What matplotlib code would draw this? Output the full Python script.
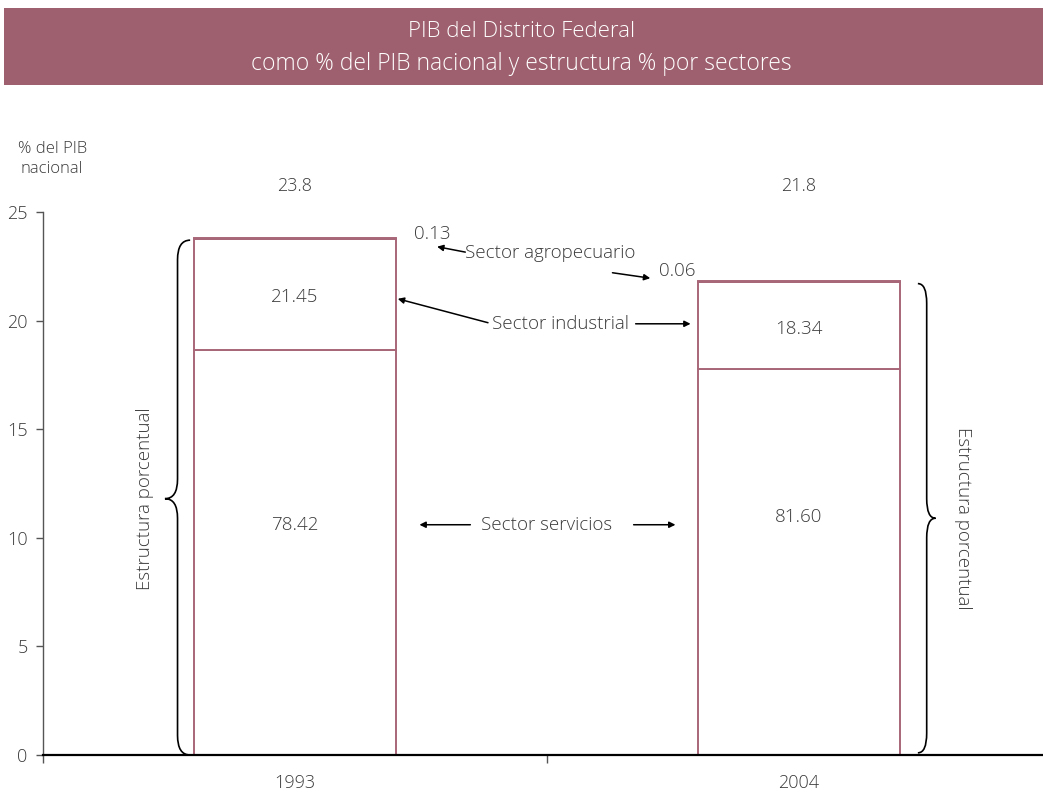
import matplotlib
matplotlib.use("Agg")
import matplotlib.pyplot as plt
from matplotlib.path import Path
from matplotlib.patches import PathPatch, Rectangle

plt.rcParams['font.family'] = ['Open Sans', 'DejaVu Sans']
plt.rcParams['font.weight'] = 300

# PIB del DF como % del nacional y su estructura por sectores
years = ['1993', '2004']
pib_pct = [23.8, 21.8]
servicios = [78.42, 81.60]
industrial = [21.45, 18.34]
agropecuario = [0.13, 0.06]

maroon = '#9e5f6e'
edge = '#a86679'
gray = '#3a3a3a'
fs = 13.5

fig = plt.figure(figsize=(10.43, 7.94), dpi=100)

# banda del título
fig.patches.append(Rectangle((0.004, 0.893), 0.996, 0.097, transform=fig.transFigure,
                             facecolor=maroon, edgecolor='none'))
fig.text(0.5, 0.960, 'PIB del Distrito Federal', color='white', ha='center', va='center',
         fontsize=16)
fig.text(0.5, 0.920, 'como % del PIB nacional y estructura % por sectores', color='white',
         ha='center', va='center', fontsize=16.5)

ax = fig.add_axes([0.0412, 0.0491, 0.9664, 0.684])
ax.set_xlim(0, 2)
ax.set_ylim(0, 25)

xs = [0.5, 1.5]
w = 0.402
serv_label_y = [10.6, 10.95]
ind_label_y = [21.1, 19.6]
for x, tot, s, ind, ag, ys, yi in zip(xs, pib_pct, servicios, industrial, agropecuario,
                                      serv_label_y, ind_label_y):
    h_s = tot * s / 100
    h_i = tot * ind / 100
    h_a = tot * ag / 100
    ax.bar(x, h_s, w, color='white', edgecolor=edge, linewidth=1.4, zorder=2)
    ax.bar(x, h_i, w, bottom=h_s, color='white', edgecolor=edge, linewidth=1.4, zorder=2)
    ax.bar(x, h_a, w, bottom=h_s + h_i, color='white', edgecolor=edge, linewidth=1.4, zorder=2)
    ax.text(x, 26.2, f'{tot}', ha='center', va='center', fontsize=13, color=gray,
            clip_on=False)
    ax.text(x, ys, f'{s:.2f}', ha='center', va='center', fontsize=fs, color=gray)
    ax.text(x, yi, f'{ind:.2f}', ha='center', va='center', fontsize=fs, color=gray)

ax.text(0.772, 24.0, f'{agropecuario[0]:.2f}', ha='center', va='center', fontsize=fs, color=gray)
ax.text(1.258, 22.3, f'{agropecuario[1]:.2f}', ha='center', va='center', fontsize=fs, color=gray)

arrow = dict(arrowstyle='-|>', color='black', lw=1.1, mutation_scale=9,
             shrinkA=0, shrinkB=0)

# Sector agropecuario
ax.text(0.838, 23.1, 'Sector agropecuario', ha='left', va='center', fontsize=fs, color=gray)
ax.annotate('', xy=(0.782, 23.4), xytext=(0.838, 23.15), arrowprops=arrow)
ax.annotate('', xy=(1.205, 21.95), xytext=(1.130, 22.2), arrowprops=arrow)

# Sector industrial
ax.text(0.890, 19.85, 'Sector industrial', ha='left', va='center', fontsize=fs, color=gray)
ax.annotate('', xy=(0.704, 21.0), xytext=(0.883, 19.9), arrowprops=arrow)
ax.annotate('', xy=(1.285, 19.85), xytext=(1.176, 19.85), arrowprops=arrow)

# Sector servicios
ax.text(1.0, 10.6, 'Sector servicios', ha='center', va='center', fontsize=fs, color=gray)
ax.annotate('', xy=(0.747, 10.6), xytext=(0.848, 10.6), arrowprops=arrow)
ax.annotate('', xy=(1.255, 10.6), xytext=(1.172, 10.6), arrowprops=arrow)


def brace(ax, x_end, x_tip, y0, y1, y_mid):
    """Llave vertical; la punta mira hacia x_tip."""
    xm = x_end + (x_tip - x_end) * 0.5
    c = 0.9
    verts = [(x_end, y1), (xm, y1), (xm, y1 - c),
             (xm, y_mid + c),
             (xm, y_mid), (x_tip, y_mid),
             (xm, y_mid), (xm, y_mid - c),
             (xm, y0 + c),
             (xm, y0), (x_end, y0)]
    codes = [Path.MOVETO, Path.CURVE3, Path.CURVE3,
             Path.LINETO,
             Path.CURVE3, Path.CURVE3,
             Path.CURVE3, Path.CURVE3,
             Path.LINETO,
             Path.CURVE3, Path.CURVE3]
    ax.add_patch(PathPatch(Path(verts, codes), facecolor='none', edgecolor='black',
                           lw=1.2, zorder=3))


brace(ax, 0.292, 0.242, 0.0, 23.7, 11.8)
brace(ax, 1.736, 1.771, 0.1, 21.7, 10.9)
ax.text(0.202, 11.8, 'Estructura porcentual', rotation=90, ha='center', va='center',
        fontsize=fs, color=gray)
ax.text(1.825, 10.9, 'Estructura porcentual', rotation=270, ha='center', va='center',
        fontsize=fs, color=gray)

# ejes
for side in ['top', 'right']:
    ax.spines[side].set_visible(False)
ax.spines['left'].set_color('#555555')
ax.spines['left'].set_linewidth(1.0)
ax.spines['bottom'].set_color('black')
ax.spines['bottom'].set_linewidth(1.6)
ax.set_yticks([0, 5, 10, 15, 20, 25])
ax.set_xticks([0, 1, 2])
ax.set_xticklabels([])
ax.tick_params(axis='y', direction='out', length=5, width=1, colors='#555555',
               labelsize=13, labelcolor=gray, pad=6)
ax.tick_params(axis='x', direction='out', length=6, width=1, colors='#555555')
for x, yr in zip(xs, years):
    ax.text(x, -1.3, yr, ha='center', va='center', fontsize=13, color=gray, clip_on=False)

fig.text(0.050, 0.800, '% del PIB\nnacional', ha='center', va='center', fontsize=12,
         color=gray, linespacing=1.3)

fig.savefig('out.png', dpi=100)
